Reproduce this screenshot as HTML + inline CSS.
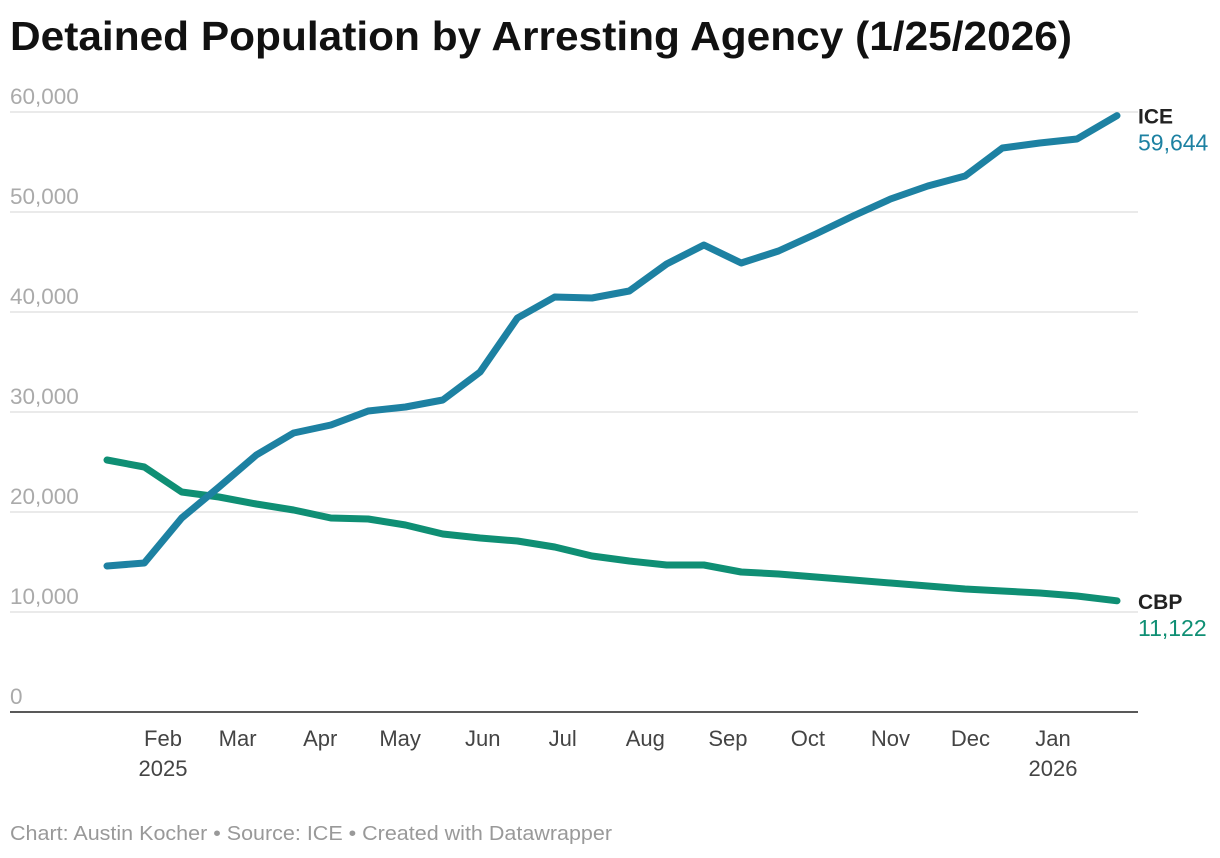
<!DOCTYPE html>
<html><head><meta charset="utf-8"><style>
body{margin:0;background:#fff;width:1220px;height:858px;overflow:hidden;font-family:"Liberation Sans",sans-serif}
</style></head><body>
<svg width="1220" height="858" style="position:absolute;left:0;top:0">
<text x="10" y="50" font-size="41" font-weight="bold" fill="#111" textLength="1062" lengthAdjust="spacingAndGlyphs">Detained Population by Arresting Agency (1/25/2026)</text>
<g id="grid"></g><g id="xaxis"></g><g id="lines"></g>
<text x="10" y="840" font-size="20" fill="#999" textLength="602" lengthAdjust="spacingAndGlyphs">Chart: Austin Kocher • Source: ICE • Created with Datawrapper</text>
</svg>
<script>
const yTicks=[0,10000,20000,30000,40000,50000,60000];
const monthTicks=["2025-02-01","2025-03-01","2025-04-01","2025-05-01","2025-06-01","2025-07-01","2025-08-01","2025-09-01","2025-10-01","2025-11-01","2025-12-01","2026-01-01"];
const monthLabels=["Feb","Mar","Apr","May","Jun","Jul","Aug","Sep","Oct","Nov","Dec","Jan"];
const dates=["2025-01-11","2025-01-25","2025-02-08","2025-02-22","2025-03-08","2025-03-22","2025-04-05","2025-04-19","2025-05-03","2025-05-17","2025-05-31","2025-06-14","2025-06-28","2025-07-12","2025-07-26","2025-08-09","2025-08-23","2025-09-06","2025-09-20","2025-10-04","2025-10-18","2025-11-01","2025-11-15","2025-11-29","2025-12-13","2025-12-27","2026-01-10","2026-01-25"];
const ice=[14600,14900,19400,22500,25700,27900,28700,30100,30500,31200,34000,39400,41500,41400,42100,44800,46700,44900,46100,47800,49600,51300,52600,53600,56400,56900,57300,59644];
const cbp=[25200,24500,22000,21500,20800,20200,19400,19300,18700,17800,17400,17100,16500,15600,15100,14700,14700,14000,13800,13500,13200,12900,12600,12300,12100,11900,11600,11122];
const NS="http://www.w3.org/2000/svg";
const t0=Date.parse("2025-02-01"),t1=Date.parse("2026-01-01");
const X=d=>163+(Date.parse(d)-t0)/(t1-t0)*890;
const Y=v=>712-v/60000*600;
function el(tag,attrs,parent,txt){const e=document.createElementNS(NS,tag);for(const k in attrs)e.setAttribute(k,attrs[k]);if(txt!=null)e.textContent=txt;parent.appendChild(e);return e;}
const grid=document.getElementById('grid'),xa=document.getElementById('xaxis'),lines=document.getElementById('lines');
yTicks.forEach(v=>{
 if(v>0){const l=el('line',{x1:10,x2:1138,y1:Y(v),y2:Y(v),stroke:'#ddd','stroke-width':1.3},grid);
 
 }
 const t=el('text',{x:10,y:Y(v)-8,'font-size':22.5,fill:'#aaa'},grid,v.toLocaleString('en-US'));
 
 
});
const base=el('line',{x1:10,x2:1138,y1:712,y2:712,stroke:'#222','stroke-width':1.5},xa);


monthTicks.forEach((d,i)=>{
 const t=el('text',{x:X(d),y:746,'font-size':22,fill:'#444','text-anchor':'middle'},xa,monthLabels[i]);
 
 
});
[["2025-02-01","2025"],["2026-01-01","2026"]].forEach(p=>{
 const t=el('text',{x:X(p[0]),y:776,'font-size':22,fill:'#444','text-anchor':'middle'},xa,p[1]);
 
 
});
function series(vals,color,name,label){
 const pts=vals.map((v,i)=>X(dates[i]).toFixed(1)+','+Y(v).toFixed(1)).join(' ');
 const pl=el('polyline',{points:pts,fill:'none',stroke:color,'stroke-width':7,'stroke-linejoin':'round','stroke-linecap':'round'},lines);
 
 
 const last=vals[vals.length-1],y=Y(last);
 const a=el('text',{x:1138,y:y+8,'font-size':21,'font-weight':'bold',fill:'#222'},lines,label);
 
 
 const b=el('text',{x:1138,y:y+35,'font-size':23,fill:color},lines,last.toLocaleString('en-US'));
 
 
}
series(cbp,'#0f8f74','cbp','CBP');
series(ice,'#1d81a2','ice','ICE');
</script>
</body></html>
